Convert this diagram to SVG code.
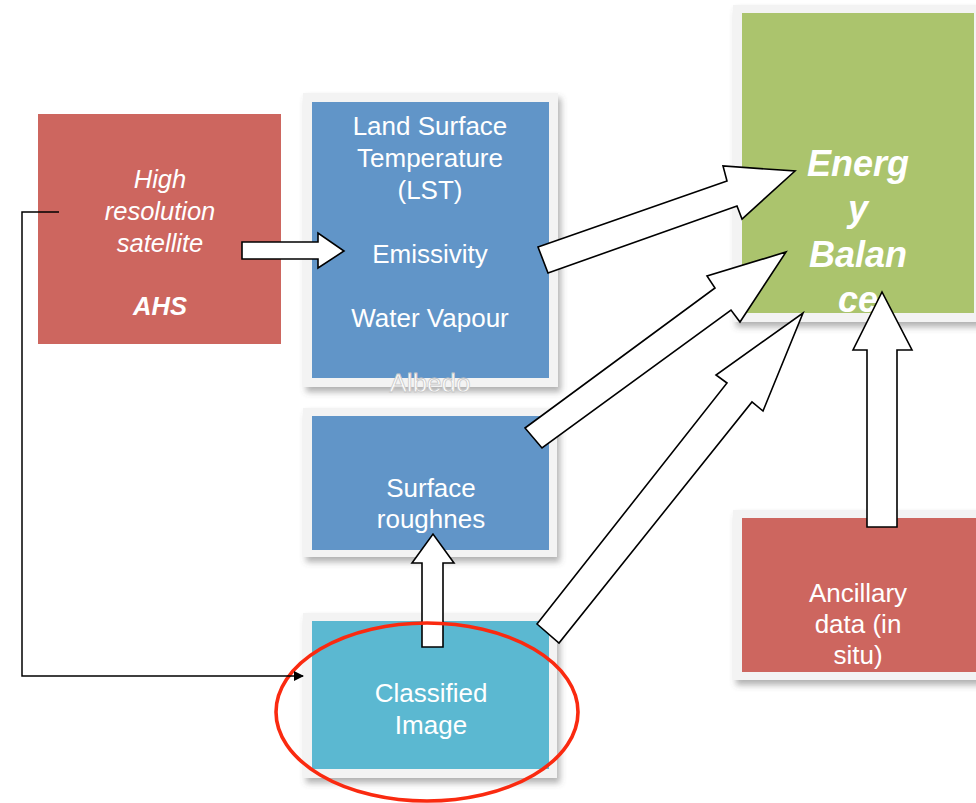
<svg xmlns="http://www.w3.org/2000/svg" width="976" height="803" viewBox="0 0 976 803">
<defs>
<filter id="sh" x="-10%" y="-10%" width="130%" height="130%">
<feDropShadow dx="3" dy="5" stdDeviation="3" flood-color="#555" flood-opacity="0.45"/>
</filter>
<marker id="ah" markerWidth="10" markerHeight="10" refX="9" refY="5" orient="auto" markerUnits="userSpaceOnUse">
<path d="M0,0 L10,5 L0,10 Z" fill="#000"/>
</marker>
</defs>
<style>
text{font-family:"Liberation Sans",Arial,sans-serif;fill:#fff;text-anchor:middle}
.t{font-size:26px}
.it{font-size:25.5px;font-style:italic}
.eb{font-size:36px;font-style:italic;font-weight:bold}
.frame{fill:#f3f3f3}
.blue{fill:#6195c8}
.arr{fill:#fff;stroke:#000;stroke-width:1.6;stroke-linejoin:miter}
</style>
<rect width="976" height="803" fill="#fff"/>

<g id="node-hrs">
<rect x="38" y="114" width="243" height="230" fill="#cd665f"/>
<text class="it" x="160" y="188">High</text>
<text class="it" x="160" y="220">resolution</text>
<text class="it" x="160" y="252">satellite</text>
<text class="it" x="160" y="315" font-weight="bold">AHS</text>
</g>

<g id="node-lst">
<rect class="frame" x="303" y="93" width="255" height="294" filter="url(#sh)"/>
<rect class="blue" x="312" y="102" width="237" height="276"/>
<text class="t" x="430" y="135">Land Surface</text>
<text class="t" x="430" y="167">Temperature</text>
<text class="t" x="430" y="199">(LST)</text>
<text class="t" x="430" y="263">Emissivity</text>
<text class="t" x="430" y="327">Water Vapour</text>
<text class="t" x="430" y="392" stroke="#c8c8c8" stroke-width="0.8">Albedo</text>
</g>

<g id="node-rough">
<rect class="frame" x="303" y="408" width="254" height="149" filter="url(#sh)"/>
<rect class="blue" x="312" y="416" width="237" height="134"/>
<text class="t" x="431" y="497">Surface</text>
<text class="t" x="431" y="528">roughnes</text>
</g>

<g id="node-class">
<rect class="frame" x="303" y="613" width="254" height="165" filter="url(#sh)"/>
<rect x="312" y="621" width="237" height="148" fill="#5bb8d1"/>
<text class="t" x="431" y="702">Classified</text>
<text class="t" x="431" y="734">Image</text>
</g>

<g id="node-energy">
<rect class="frame" x="733" y="5" width="250" height="317" filter="url(#sh)"/>
<rect x="742" y="13" width="232" height="300" fill="#abc46d"/>
<text class="eb" x="858" y="176">Energ</text>
<text class="eb" x="858" y="221">y</text>
<text class="eb" x="858" y="267">Balan</text>
<text class="eb" x="858" y="312">ce</text>
</g>

<g id="node-ancillary">
<rect class="frame" x="733" y="510" width="250" height="170" filter="url(#sh)"/>
<rect x="742" y="518" width="234" height="154" fill="#cd665f"/>
<text class="t" x="858" y="602">Ancillary</text>
<text class="t" x="858" y="633">data (in</text>
<text class="t" x="858" y="664">situ)</text>
</g>

<g id="connectors">
<path class="arr" d="M242,242 L318,242 L318,233 L344,251 L318,268 L318,259 L242,259 Z"/>
<path class="arr" d="M538,247 L727,181 L723,166 L795,171 L742,219 L737,206 L548,273 Z"/>
<path class="arr" d="M525,428 L715,288 L707,276 L786,252 L740,322 L731,310 L542,448 Z"/>
<path class="arr" d="M537,624 L727,383 L716,375 L803,313 L763,411 L752,402 L559,643 Z"/>
<path class="arr" d="M867,527 L867,350 L853,350 L882,292 L912,350 L897,350 L897,527 Z"/>
<path class="arr" d="M422,647 L422,563 L412,563 L433,534 L454,563 L443,563 L443,647 Z"/>
<ellipse cx="427" cy="712" rx="151" ry="89" fill="none" stroke="#fa2a10" stroke-width="3.6"/>
<path d="M59,212 L22,212 L22,676 L303,676" fill="none" stroke="#000" stroke-width="1.5" marker-end="url(#ah)"/>
</g>
</svg>
